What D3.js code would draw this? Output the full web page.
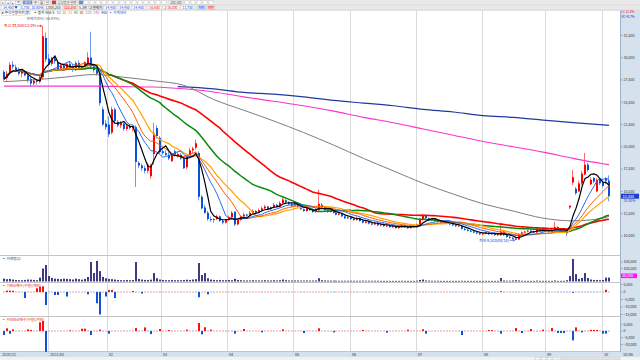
<!DOCTYPE html>
<html>
<head>
<meta charset="utf-8">
<script src="https://cdn.jsdelivr.net/npm/d3@7/dist/d3.min.js"></script>
<style>
body { margin: 0; background: #fff; }
svg { display: block; font-family: "Noto Sans CJK KR", "Noto Sans", sans-serif; }
</style>
</head>
<body>
<script>

var monthLabels = ['2020/12', '2021/01', '02', '03', '04', '05', '06', '07', '08', '09', '10'];
var monthStart = [0, 15, 35, 53, 75, 97, 116, 138, 160, 181, 200];
var lastDate = '10/06';

// daily candles: open high low close (thousand won)
var ohlc = [
 // 2020/12
 '28.4 28.6 27.3 27.6', '27.7 28.5 27.4 28.2', '28.3 29.5 28.1 29.2', '29.2 29.6 28.7 29.0', '28.9 29.2 28.4 28.6',
 '28.6 28.9 28.0 28.2', '28.2 28.6 27.8 28.4', '28.4 28.6 27.9 28.0', '28.0 28.2 27.2 27.5', '27.6 28.0 26.8 27.1',
 '27.1 27.6 26.9 27.4', '27.4 27.6 27.0 27.3', '27.3 28.0 27.1 27.8', '27.8 33.55 27.6 32.4', '32.2 32.8 29.5 29.8',
 // 01
 '29.9 30.4 29.0 29.2', '29.3 30.1 29.1 29.9', '29.9 30.2 29.3 29.6', '29.5 29.7 28.5 28.7', '28.8 29.3 28.6 29.1',
 '29.1 29.3 28.5 28.8', '28.7 29.4 28.6 29.3', '29.3 29.6 28.8 29.0', '29.0 29.3 28.4 28.6', '28.6 29.6 28.5 29.4',
 '29.4 29.7 28.6 28.8', '28.8 29.1 28.6 29.0', '29.0 29.6 28.8 29.5', '29.4 30.6 29.3 30.0', '30.0 32.9 28.8 29.0',
 '29.0 29.2 28.3 28.6', '28.6 28.9 28.0 28.2', '28.3 28.5 24.6 24.9', '24.2 24.5 22.3 22.5', '22.6 23.0 21.9 22.2',
 // 02
 '22.5 23.4 21.1 21.4', '21.6 24.5 21.4 24.2', '24.2 24.4 22.6 22.9', '22.8 23.0 22.2 22.4', '22.4 22.9 22.1 22.7',
 '22.6 22.8 21.8 22.0', '22.0 22.5 21.8 22.3', '22.3 22.6 21.9 22.1', '22.1 22.4 21.7 22.3', '22.2 22.4 15.5 18.3',
 '18.2 18.4 17.6 17.9', '17.9 18.1 17.3 17.6', '17.6 17.9 17.0 17.3', '17.3 18.2 17.0 18.0', '16.7 18.1 16.4 17.9',
 '19.2 22.7 18.0 21.5', '22.1 22.4 20.9 21.2', '21.0 21.2 19.2 19.4',
 // 03
 '19.5 19.8 19.1 19.3', '19.3 19.6 19.0 19.1', '19.1 19.4 18.5 18.7', '18.4 19.2 18.3 19.0', '19.5 19.7 18.9 19.1',
 '19.1 19.4 18.8 19.2', '19.1 19.3 18.5 18.7', '18.7 18.9 17.5 17.6', '17.7 19.0 17.5 18.9', '18.9 19.9 18.7 19.6',
 '19.6 20.0 19.3 19.8', '19.9 20.8 19.7 20.4', '19.3 19.5 14.0 14.4', '14.4 14.6 13.0 13.1', '13.2 13.5 12.5 12.6',
 '12.6 12.8 11.7 11.9', '11.9 12.2 11.6 11.8', '11.8 12.0 11.5 11.9', '11.9 12.4 11.8 12.2', '12.2 12.3 11.6 11.7',
 '11.7 11.9 11.3 11.5', '11.5 11.9 11.4 11.8',
 // 04
 '11.8 12.3 11.7 12.1', '12.1 12.8 12.0 12.6', '12.7 12.8 11.1 11.3', '11.3 11.9 11.2 11.8', '11.8 12.3 11.7 12.2',
 '12.2 12.6 12.1 12.4', '12.4 12.5 12.1 12.3', '12.3 12.8 12.2 12.6', '12.6 13.0 12.5 12.8', '12.8 12.9 12.4 12.6',
 '12.6 13.1 12.5 12.9', '12.9 13.3 12.8 13.1', '13.1 13.5 13.0 13.3', '13.3 13.4 12.9 13.0', '13.0 13.3 12.9 13.2',
 '13.2 13.7 13.1 13.5', '13.5 13.6 13.2 13.3', '13.3 13.9 13.2 13.7', '13.7 14.3 13.6 14.1', '14.0 14.1 13.6 13.8',
 '13.8 13.9 13.4 13.6', '13.6 13.7 13.2 13.4',
 // 05
 '13.4 13.9 13.3 13.7', '13.7 13.8 13.2 13.3', '13.3 13.4 12.9 13.0', '13.0 13.1 12.7 12.8', '12.8 13.3 12.7 13.1',
 '13.1 13.2 12.8 12.9', '13.0 13.1 12.6 12.7', '12.7 13.1 12.6 13.0', '12.9 15.2 12.8 13.6', '13.5 13.7 13.1 13.2',
 '13.2 13.3 12.8 12.9', '12.9 13.0 12.6 12.7', '12.7 13.1 12.6 12.9', '12.9 13.0 12.5 12.6', '12.6 12.7 12.3 12.4',
 '12.4 12.7 12.3 12.5', '12.5 12.6 12.1 12.2', '12.2 12.3 11.9 12.0', '12.0 12.3 11.9 12.1',
 // 06
 '12.1 12.2 11.8 11.9', '11.9 12.0 11.7 11.8', '11.8 12.2 11.7 12.0', '12.0 12.1 11.6 11.7', '11.7 11.8 11.4 11.5',
 '11.5 11.8 11.4 11.6', '11.6 11.7 11.3 11.4', '11.4 11.5 11.2 11.3', '11.3 11.6 11.2 11.5', '11.5 11.6 11.1 11.2',
 '11.2 11.4 11.1 11.3', '11.3 11.4 11.0 11.1', '11.1 11.3 11.0 11.2', '11.2 11.3 10.9 11.0', '11.0 11.2 10.9 11.1',
 '11.1 11.2 10.8 10.9', '10.9 11.1 10.8 11.0', '11.0 11.3 10.9 11.2', '11.2 11.3 10.9 11.0', '11.0 11.1 10.8 10.9',
 '10.9 11.2 10.8 11.1', '11.1 11.2 10.9 11.0',
 // 07
 '11.0 11.4 10.9 11.3', '11.3 12.0 11.2 11.8', '11.8 12.5 11.7 12.3', '12.3 12.4 11.9 12.0', '12.0 12.1 11.7 11.8',
 '11.8 12.0 11.7 11.9', '11.9 12.0 11.6 11.7', '11.7 11.8 11.5 11.6', '11.6 11.7 11.4 11.5', '11.5 11.6 11.3 11.4',
 '11.4 11.6 11.3 11.5', '11.5 11.6 11.2 11.3', '11.3 11.4 11.1 11.2', '11.2 11.3 11.0 11.1', '11.1 11.3 11.0 11.2',
 '11.2 11.2 10.7 10.8', '10.8 10.9 10.6 10.7', '10.7 10.8 10.5 10.6', '10.6 10.7 10.4 10.5', '10.5 10.6 10.3 10.4',
 '10.4 10.5 10.2 10.3', '10.3 10.4 10.1 10.2',
 // 08
 '10.2 10.4 10.1 10.3', '10.3 10.5 10.2 10.4', '10.4 10.5 10.1 10.2', '10.2 10.4 10.1 10.3', '10.3 10.4 10.0 10.1',
 '10.1 10.3 10.0 10.2', '10.1 11.5 10.0 10.5', '10.5 10.6 10.0 10.1', '10.1 10.2 9.8 9.9', '9.9 10.0 9.7 9.8',
 '9.8 9.9 9.6 9.7', '9.7 9.9 9.52 9.6', '9.6 10.3 9.6 10.2', '10.2 10.5 10.1 10.4', '10.4 10.6 10.3 10.5',
 '10.5 10.7 10.4 10.6', '10.6 10.7 10.4 10.5', '10.5 10.6 10.3 10.4', '10.4 10.9 10.3 10.8', '10.8 10.9 10.5 10.6',
 '10.6 10.8 10.5 10.7',
 // 09
 '10.7 10.8 10.5 10.6', '10.6 10.7 10.4 10.5', '10.5 10.8 10.4 10.7', '10.7 11.6 10.6 11.0', '11.0 11.1 10.6 10.7',
 '10.7 10.8 10.5 10.6', '10.6 10.7 10.4 10.5', '10.5 10.6 10.0 10.3', '13.2 13.4 13.0 13.4', '16.0 17.4 15.7 16.6',
 '15.3 15.5 14.6 14.8', '15.0 16.2 14.9 15.9', '15.9 17.3 15.7 17.0', '16.9 19.3 16.8 18.0', '18.0 18.2 17.2 17.4',
 '15.8 16.6 15.7 16.3', '16.5 16.6 15.9 16.1', '15.0 16.5 14.9 16.3', '16.4 16.5 15.7 15.9',
 // 10
 '16.0 16.3 15.4 15.6', '16.5 16.6 15.8 16.2', '16.2 16.8 13.9 14.45'
];

// volume (thousand shares)
var volume = [
 22, 18, 20, 15, 12, 10, 10, 12, 15, 14, 12, 10, 30, 100, 127,
 42, 28, 22, 20, 18, 22, 20, 18, 15, 22, 18, 14, 20, 35, 150, 65, 158, 80, 35, 25,
 20, 18, 15, 12, 10, 10, 12, 10, 12, 150, 20, 15, 12, 12, 14, 65, 25, 15,
 12, 10, 10, 12, 10, 10, 10, 12, 14, 12, 15, 18, 142, 50, 65, 25, 15, 12, 10, 12, 10, 10,
 12, 10, 20, 12, 10, 8, 8, 8, 10, 8, 8, 8, 10, 8, 8, 10, 8, 10, 15, 10, 8, 8,
 8, 8, 7, 7, 8, 7, 7, 8, 25, 10, 8, 7, 7, 7, 6, 6, 6, 6, 6,
 6, 6, 6, 6, 7, 6, 6, 6, 6, 6, 5, 5, 5, 5, 5, 5, 5, 6, 5, 5, 5, 5,
 6, 12, 15, 8, 7, 6, 6, 6, 5, 5, 5, 5, 5, 5, 5, 6, 5, 5, 5, 5, 5, 5,
 5, 5, 5, 5, 5, 5, 27, 8, 6, 6, 8, 10, 8, 6, 5, 5, 5, 5, 7, 5, 5,
 5, 5, 5, 8, 5, 5, 5, 10, 42, 173, 57, 20, 27, 65, 27, 15, 12, 12, 10,
 12, 30, 30
];

// institution net buying (thousand shares)
var instNet = [
 0.2, 0.9, 0.9, 0.8, 0.2, -0.2, 0.2, -4, 0.2, 0.2, 0.3, 2.5, 3.5, 3.8, -8.7,
 -0.3, 0.2, -2, -2, 0.2, -0.3, -3, 0.2, 0.2, -0.3, 0.2, 0.2, 0.2, -1.5, 0.2, -0.3, -7.5, -15, 0.2, -3,
 1.3, 1.3, -4, 0.2, 0.2, -0.2, 0.2, 0.2, 0.7, -0.2, 0.2, -1, 0.2, 0.2, -0.2, 0.2, 0.2, -0.2,
 0.2, 0.2, -0.2, 0.2, 0.2, 0.2, -0.2, 0.2, 0.2, 0.2, 0.2, -0.2, -3.5, 0.2, 0.2, -1.5, 0.2, -0.2, 0.2, 0.2, 0.2, -0.2,
 0.2, -0.2, 0.2, 0.2, 0.2, -0.2, -0.2, 0.2, 0.2, 0.2, 0.2, -0.2, 0.2, 0.2, 0.2, 0.2, -0.2, -0.2, 0.2, 0.2, -0.2, 0.2,
 0.2, 0.2, -0.2, -0.2, 0.2, 0.2, 0.2, -0.2, 0.2, 0.2, 0.2, -0.2, -0.2, -0.2, 0.2, 0.2, -0.2, -0.2, 0.2,
 0.2, -0.2, -0.2, 0.2, 0.2, -0.2, -0.2, -0.2, 0.2, 0.2, -0.2, 0.2, -0.2, -0.2, 0.2, 0.2, -0.2, -0.2, 0.2, -0.2, -0.2, 0.2,
 0.2, 0.2, -0.2, -0.2, 0.2, -0.2, -0.2, 0.2, 0.2, 0.2, 0.2, -0.2, -0.2, -0.2, 0.2, -0.2, 0.2, 0.2, -0.2, -0.2, -0.2, 0.2,
 0.2, 0.2, -0.2, -0.2, -0.2, 0.2, 0.5, -0.2, 0.2, -0.2, -0.2, -0.2, 0.2, 0.2, -0.2, -0.2, 0.2, 0.2, -0.2, -0.2, 0.2,
 -0.2, -0.2, 0.2, 0.2, -0.2, -0.2, -0.2, -0.3, 0.2, -0.5, 0.3, -0.3, -0.2, 0.2, -0.2, -0.3, -0.2, -0.2, 0.2,
 -0.2, 1.5, 0.3
];

// foreign net buying (thousand shares)
var forNet = [
 -3, 2, -2, 1.2, 0.2, -0.2, 0.2, 0.2, 1.2, 0.8, 0.2, -0.3, 6.5, 7.5, -15.5,
 0.2, -0.3, 0.2, 0.2, -0.2, 0.2, 0.2, 0.5, -0.2, 0.2, 0.2, 1.7, 1.7, 0.2, -3, 0.2, 0.2, 1, -0.2, 0.2,
 -2, 0.2, -0.2, 0.2, 0.2, -0.2, 0.2, 0.2, 0.2, 2.2, -0.2, 0.2, 2.7, -0.2, -2.3, 0.2, 0.2, 1.5,
 0.2, 0.2, 0.7, -0.2, 0.2, 0.2, -0.2, 0.2, 1, 0.2, -0.2, 0.2, 6, -2.5, 2.8, 0.2, 1, 0.2, -0.2, 0.2, 0.2, -0.2,
 0.2, -0.2, -2, 0.2, 0.2, 1.5, 0.2, -0.2, 0.2, 0.2, 0.2, -1, 0.2, 0.2, 0.2, -0.2, 0.2, 0.2, 1.2, 0.2, -0.2, 0.2,
 0.2, 0.2, 0.2, -1.5, 0.2, 0.2, -0.2, 0.2, 2, 0.2, -0.2, 0.2, 0.2, -1, 0.2, 0.2, -0.2, 0.2, 0.2,
 0.2, -0.2, 0.2, 0.2, 0.8, 0.2, -0.2, 0.2, 0.2, -0.2, 0.2, 0.2, -1.2, 0.2, 0.2, -0.2, 0.2, 0.2, 0.2, 1, -0.2, 0.2,
 0.2, 0.2, 1.3, -2, 0.2, 0.2, -0.2, 0.2, 0.2, 0.2, -0.2, 0.2, 0.2, 0.2, -0.2, -3, 0.2, 0.2, -0.2, 0.2, 0.2, 0.2,
 0.2, 0.2, 0.7, 0.7, 0.2, -0.2, -2, 0.2, 0.2, -0.2, 0.2, 2.2, 0.2, -1.5, 0.2, 0.2, 1.5, 0.2, -0.2, 0.2, 1,
 0.2, 0.2, 2.2, -0.2, -1.5, -1.5, -1.5, 0.2, 0.3, -7, 2.7, 0.2, -1, 0.2, 0.2, 0.8, 0.8, 0.8, 0.2,
 -2, -2, -0.3
];

// long moving averages (thousand won)
var longIdx = [0, 10, 20, 30, 40, 50, 60, 70, 80, 90, 100, 110, 120, 130, 140, 150, 160, 170, 180, 190, 200, 202];
var ma120 = [27.3, 27.5, 27.8, 28.1, 27.8, 27.4, 26.9, 25.3, 24.1, 22.9, 21.6, 20.2, 18.7, 17.3, 15.9, 14.7, 13.6, 12.8, 12.0, 11.7, 12.0, 12.2];
var ma240 = [26.8, 26.8, 26.8, 26.8, 26.75, 26.7, 26.5, 26.15, 25.6, 25.1, 24.6, 24.0, 23.3, 22.7, 22.0, 21.3, 20.6, 20.0, 19.4, 18.7, 18.1, 18.0];
var navyIdx = [58, 70, 80, 90, 100, 110, 120, 130, 140, 150, 160, 170, 180, 190, 200, 202];
var ma480 = [26.75, 26.5, 26.1, 25.9, 25.6, 25.2, 24.9, 24.6, 24.2, 23.9, 23.5, 23.3, 23.0, 22.7, 22.45, 22.4];

var maPeriods = [5, 10, 15, 20, 40, 60];
var maColors = ['#000000', '#2a6ce6', '#ff5a00', '#ffa200', '#0a8a0a', '#ff0000'];
var maWidths = [1.2, 1, 1, 1.2, 1.5, 1.6];

var priceTicks = [10000, 12500, 15000, 17500, 20000, 22500, 25000, 27500, 30000, 32500];
var volTicks = [100000, 150000];
var instTicks = [5000, 0, -5000, -10000, -15000];
var forTicks = [5000, 0, -5000, -10000];

var maxLabel = '최고 33,550(12/29)';
var minLabel = '최저 9,520(08/18)';

var bars = ohlc.map(function(s, i) {
  var p = s.split(' ').map(function(v) { return +v * 1000; });
  return {i: i, o: p[0], h: p[1], l: p[2], c: p[3], v: volume[i] * 1000, inst: instNet[i] * 1000, frn: forNet[i] * 1000};
});
var closes = bars.map(function(d) { return d.c; });

function sma(p) {
  return closes.map(function(c, i) {
    return {i: i, v: d3.mean(closes.slice(Math.max(0, i - p + 1), i + 1))};
  });
}

var W = 640, H = 360, plotR = 620;

var svg = d3.select('body').append('svg')
    .attr('width', W)
    .attr('height', H);

var x = d3.scaleLinear().domain([0, bars.length - 1]).range([4.1, 609]);
var y = d3.scaleLinear().domain([10000, 32500]).range([236, 35.3]);
var yVol = d3.scaleLinear().domain([0, 150000]).range([281.5, 262]);
var yInst = d3.scaleLinear().domain([0, 5000]).range([292, 284.5]);
var yFor = d3.scaleLinear().domain([0, 5000]).range([331, 324.3]);

function cx(i) { return Math.round(x(i)); }

var defs = svg.append('defs');
[['clipMain', 10.5, 244.5], ['clipVol', 256, 26], ['clipInst', 283, 33], ['clipFor', 317, 35]].forEach(function(c) {
  defs.append('clipPath').attr('id', c[0]).append('rect')
      .attr('x', 0).attr('y', c[1]).attr('width', plotR).attr('height', c[2]);
});

// toolbar
svg.append('rect').attr('x', 0).attr('y', 0).attr('width', W).attr('height', 10).attr('fill', '#e9e9e9');
svg.append('line').attr('x1', 0).attr('x2', W).attr('y1', 4.8).attr('y2', 4.8).attr('stroke', '#d0d0d0').attr('stroke-width', 0.5);
svg.append('line').attr('x1', 0).attr('x2', W).attr('y1', 10.2).attr('y2', 10.2).attr('stroke', '#b8b8b8').attr('stroke-width', 0.6);

var toolTop = [
  [1, 4, '#fff', '▾'], [6, 4, '#fff', '◂'], [11, 4, '#fff', '▸'], [16, 5, '#fff', '일'],
  [23, 9, '#5d8fdc', '분석'], [33, 5, '#fff', '주'], [39, 5, '#fff', '월'], [45, 5, '#fff', '년'],
  [52, 4, '#d33', ''], [57, 20, '#fff', '삼성증권 관련'], [79, 4, '#6a8fd0', ''], [84, 4, '#fff', ''],
  [90, 4, '#fff', ''], [96, 4, '#fff', ''], [102, 4, '#fff', ''], [108, 4, '#fff', ''], [114, 4, '#fff', ''],
  [120, 4, '#fff', ''], [126, 4, '#fff', ''], [132, 4, '#fff', ''], [138, 4, '#fff', ''], [144, 4, '#fff', ''],
  [150, 4, '#fff', ''], [156, 4, '#fff', ''], [162, 4, '#fff', ''], [169, 14, '#fff', '200,000'],
  [185, 4, '#fff', ''], [191, 4, '#fff', ''], [197, 4, '#fff', ''], [203, 4, '#fff', ''], [209, 4, '#fff', '']
];
toolTop.forEach(function(t) {
  svg.append('rect').attr('x', t[0]).attr('y', 0.6).attr('width', t[1]).attr('height', 3.6)
      .attr('fill', t[2]).attr('stroke', '#a8a8a8').attr('stroke-width', 0.3);
  if (t[3]) svg.append('text').attr('x', t[0] + t[1] / 2).attr('y', 3.6).attr('text-anchor', 'middle')
      .attr('font-size', 3.2).attr('fill', t[2] == '#fff' ? '#333' : '#fff').text(t[3]);
});

var toolRow = [
  [1, 19, '14,450 ▼', '#0a3fd6', '#fff'], [21, 22, '1,750 -10.80%', '#0a3fd6', '#fff'],
  [44, 18, '1,008,250', '#222', '#fff'], [63, 14, '122,250', '#e01010', '#ffe3e3'],
  [78, 10, '5.3배', '#222', '#fff'], [89, 14, '2 현재가', '#222', '#e9e9e9'],
  [104, 13, '14,450', '#0a3fd6', '#fff'], [118, 13, '14,450', '#0a3fd6', '#fff'],
  [132, 13, '14,450', '#0a3fd6', '#fff'], [148, 13, '16,600', '#e01010', '#fff'],
  [163, 16, '2 16,000', '#e01010', '#fff'], [181, 13, '11,750', '#0a3fd6', '#fff'],
  [197, 9, '차트', '#0a3fd6', '#cfe0f6'], [207, 8, '패턴', '#e01010', '#fbdada']
];
toolRow.forEach(function(t) {
  svg.append('rect').attr('x', t[0]).attr('y', 5.4).attr('width', t[1]).attr('height', 4.1)
      .attr('fill', t[4]).attr('stroke', '#bdbdbd').attr('stroke-width', 0.3);
  svg.append('text').attr('x', t[0] + t[1] / 2).attr('y', 8.9).attr('text-anchor', 'middle')
      .attr('font-size', 3.4).attr('fill', t[3]).text(t[2]);
});

// right axis strip and bottom bars
svg.append('rect').attr('x', plotR).attr('y', 10.5).attr('width', W - plotR).attr('height', 346).attr('fill', '#d6e1ee');
svg.append('line').attr('x1', plotR + 0.5).attr('x2', plotR + 0.5).attr('y1', 10.5).attr('y2', 357)
    .attr('stroke', '#9fb1c8').attr('stroke-width', 1);
svg.append('rect').attr('x', 0).attr('y', 352).attr('width', W).attr('height', 5).attr('fill', '#d6e1ee');
svg.append('rect').attr('x', 0).attr('y', 357).attr('width', W).attr('height', 3).attr('fill', '#f2f2f2');
[535, 541, 547, 553].forEach(function(bx) {
  svg.append('rect').attr('x', bx).attr('y', 357.3).attr('width', 5).attr('height', 2.6)
      .attr('fill', '#fff').attr('stroke', '#999').attr('stroke-width', 0.3);
});
svg.append('rect').attr('x', 560).attr('y', 357.3).attr('width', 60).attr('height', 2.6)
    .attr('fill', '#e4e4e4').attr('stroke', '#bbb').attr('stroke-width', 0.3);

// month grid
var grid = svg.append('g');
monthStart.forEach(function(m, k) {
  var gx = Math.round(x(m) - 1.5) + 0.5;
  if (k > 0) grid.append('line').attr('x1', gx).attr('x2', gx).attr('y1', 10.5).attr('y2', 357)
      .attr('stroke', '#dadada').attr('stroke-width', 1);
  svg.append('text').attr('x', k == 0 ? 2 : gx + 1.5).attr('y', 356).attr('font-size', 3.8)
      .attr('fill', '#333').text(monthLabels[k]);
});
svg.append('text').attr('x', 623).attr('y', 356).attr('font-size', 3.8).attr('fill', '#333').text(lastDate);

// panel borders
[255.5, 282.5, 316.5, 351.5].forEach(function(py) {
  svg.append('line').attr('x1', 0).attr('x2', plotR).attr('y1', py).attr('y2', py)
      .attr('stroke', '#c4c4c4').attr('stroke-width', 1);
});

// candles
var gMain = svg.append('g').attr('clip-path', 'url(#clipMain)');
function candleColor(d) { return d.c >= d.o ? '#ff0000' : '#0a50dc'; }
gMain.selectAll('.wick').data(bars).enter().append('line')
    .attr('class', 'wick')
    .attr('x1', function(d) { return cx(d.i) - 0.5; })
    .attr('x2', function(d) { return cx(d.i) - 0.5; })
    .attr('y1', function(d) { return y(d.h); })
    .attr('y2', function(d) { return y(d.l); })
    .attr('stroke', function(d) { return d.c >= d.o ? '#ff6a6a' : '#6f9af0'; })
    .attr('stroke-width', 1);
gMain.selectAll('.body').data(bars).enter().append('rect')
    .attr('class', 'body')
    .attr('x', function(d) { return cx(d.i) - 1; })
    .attr('width', 2)
    .attr('y', function(d) { return y(Math.max(d.o, d.c)); })
    .attr('height', function(d) { return Math.max(1, Math.abs(y(d.o) - y(d.c))); })
    .attr('fill', candleColor);

// moving averages
var line = d3.line().x(function(d) { return x(d.i); }).y(function(d) { return y(d.v); });
var smooth = d3.line().x(function(d) { return x(d.i); }).y(function(d) { return y(d.v); }).curve(d3.curveMonotoneX);

gMain.append('path')
    .attr('d', smooth(navyIdx.map(function(ix, k) { return {i: ix, v: ma480[k] * 1000}; })))
    .attr('fill', 'none').attr('stroke', '#1f3a9e').attr('stroke-width', 1.2);
gMain.append('path')
    .attr('d', smooth(longIdx.map(function(ix, k) { return {i: ix, v: ma240[k] * 1000}; })))
    .attr('fill', 'none').attr('stroke', '#ff33cc').attr('stroke-width', 1.1);
gMain.append('path')
    .attr('d', smooth(longIdx.map(function(ix, k) { return {i: ix, v: ma120[k] * 1000}; })))
    .attr('fill', 'none').attr('stroke', '#7d7d7d').attr('stroke-width', 1);

for (var m = maPeriods.length - 1; m >= 0; m--) {
  gMain.append('path')
      .attr('d', line(sma(maPeriods[m])))
      .attr('fill', 'none')
      .attr('stroke', maColors[m])
      .attr('stroke-width', maWidths[m]);
}

// high / low notes
var hiBar = bars.reduce(function(a, b) { return b.h > a.h ? b : a; });
var loBar = bars.reduce(function(a, b) { return b.l < a.l ? b : a; });
var last = bars[bars.length - 1];
svg.append('text').attr('x', cx(hiBar.i)).attr('y', y(hiBar.h) - 6).attr('text-anchor', 'middle')
    .attr('font-size', 3.6).attr('fill', '#666')
    .text('현재가대비(' + d3.format('.2f')((last.c / hiBar.h - 1) * 100) + '%)');
svg.append('text').attr('x', cx(hiBar.i) - 7).attr('y', y(hiBar.h) + 1.5).attr('text-anchor', 'end')
    .attr('font-size', 3.8).attr('fill', '#e00000').text(maxLabel);
svg.append('path').attr('d', 'M' + (cx(hiBar.i) - 6.5) + ',' + y(hiBar.h) + 'h5 m-1.5,-1 l1.5,1 l-1.5,1')
    .attr('fill', 'none').attr('stroke', '#e00000').attr('stroke-width', 0.6);
svg.append('text').attr('x', cx(loBar.i) - 7).attr('y', y(loBar.l) + 1.5).attr('text-anchor', 'end')
    .attr('font-size', 3.8).attr('fill', '#1040d0').text(minLabel);
svg.append('path').attr('d', 'M' + (cx(loBar.i) - 6.5) + ',' + y(loBar.l) + 'h5 m-1.5,-1 l1.5,1 l-1.5,1')
    .attr('fill', 'none').attr('stroke', '#1040d0').attr('stroke-width', 0.6);

// legend row
var legend = [
  ['▸ 주식일봉차트(봉)', '#333'], ['▪ 종가 단순 5', '#111'], ['10', '#2a6ce6'], ['15', '#ff5a00'],
  ['20', '#e8a000'], ['40', '#0a8a0a'], ['60', '#ff0000'], ['120', '#7d7d7d'],
  ['240', '#ff33cc'], ['480', '#1f3a9e'], ['▪ 가격대비', '#1f50d0']
];
var lx = 2;
legend.forEach(function(it, k) {
  var t = svg.append('text').attr('x', lx).attr('y', 14.2).attr('font-size', 3.6).attr('fill', it[1]).text(it[0]);
  if (k == 0) svg.append('rect').attr('x', 1).attr('y', 11.4).attr('width', 24).attr('height', 3.8)
      .attr('fill', 'none').attr('stroke', '#aaa').attr('stroke-width', 0.3);
  lx += t.node().getComputedTextLength() + (k == 0 ? 3 : 1.8);
});

// volume
var gVol = svg.append('g').attr('clip-path', 'url(#clipVol)');
gVol.selectAll('rect').data(bars).enter().append('rect')
    .attr('x', function(d) { return cx(d.i) - 1; })
    .attr('width', 2)
    .attr('y', function(d) { return yVol(d.v); })
    .attr('height', function(d) { return Math.max(0.8, yVol(0) - yVol(d.v)); })
    .attr('fill', '#3b3b86');

// net buying panels
function flowPanel(clip, scale, key) {
  var g = svg.append('g').attr('clip-path', 'url(#' + clip + ')');
  g.selectAll('.base').data(bars).enter().append('rect')
      .attr('x', function(d) { return cx(d.i) - 1; })
      .attr('width', 2)
      .attr('y', scale(0) - 0.5)
      .attr('height', 1)
      .attr('fill', function(d) { return d[key] >= 0 ? '#ff9a9a' : '#8fb0ee'; });
  g.selectAll('.bar').data(bars.filter(function(d) { return Math.abs(d[key]) > 400; })).enter().append('rect')
      .attr('x', function(d) { return cx(d.i) - 1; })
      .attr('width', 2)
      .attr('y', function(d) { return Math.min(scale(d[key]), scale(0)); })
      .attr('height', function(d) { return Math.abs(scale(d[key]) - scale(0)); })
      .attr('fill', function(d) { return d[key] >= 0 ? '#ff1010' : '#1252d2'; });
}
flowPanel('clipInst', yInst, 'inst');
flowPanel('clipFor', yFor, 'frn');

// panel titles
[[259.5, '▪ 거래량(2)', '#30307a'], [286.5, '▪ 기관순매수(수량)(개인)', '#e01010'], [320.5, '▪ 외국인순매수(수량)(외인)', '#e01010']]
  .forEach(function(t) {
    svg.append('text').attr('x', 2).attr('y', t[0]).attr('font-size', 3.6).attr('fill', t[2]).text(t[1]);
  });

// right axis labels
function axisLabels(ticks, scale) {
  ticks.forEach(function(v) {
    svg.append('line').attr('x1', plotR + 1).attr('x2', plotR + 2.5).attr('y1', scale(v)).attr('y2', scale(v))
        .attr('stroke', '#555').attr('stroke-width', 0.5);
    svg.append('text').attr('x', plotR + 3.5).attr('y', scale(v) + 1.3).attr('font-size', 3.6)
        .attr('fill', '#333').text(d3.format(',')(v));
  });
}
axisLabels(priceTicks, y);
axisLabels(volTicks, yVol);
axisLabels(instTicks, yInst);
axisLabels(forTicks, yFor);

svg.append('text').attr('x', plotR + 1.5).attr('y', 13.4).attr('font-size', 3).attr('fill', '#e01010').text('LC 51.3%');
svg.append('text').attr('x', plotR + 1.5).attr('y', 18).attr('font-size', 3).attr('fill', '#1040d0').text('RC 48.7%');

// current price tag
svg.append('rect').attr('x', plotR + 1).attr('y', y(last.c) - 2.6).attr('width', 18).attr('height', 5)
    .attr('fill', '#1a3fcf');
svg.append('text').attr('x', plotR + 2.5).attr('y', y(last.c) + 1.3).attr('font-size', 3.8)
    .attr('fill', '#fff').text(d3.format(',')(last.c));
svg.append('text').attr('x', plotR + 2.5).attr('y', y(last.c) + 5.6).attr('font-size', 3.4)
    .attr('fill', '#1040d0').text('-10.80%');

// current volume tag
svg.append('rect').attr('x', plotR + 1).attr('y', 273.5).attr('width', 16).attr('height', 4.6).attr('fill', '#ff10ff');
svg.append('text').attr('x', plotR + 2).attr('y', 277.1).attr('font-size', 3.6).attr('fill', '#fff')
    .text(d3.format(',')(last.v));

</script>
</body>
</html>
